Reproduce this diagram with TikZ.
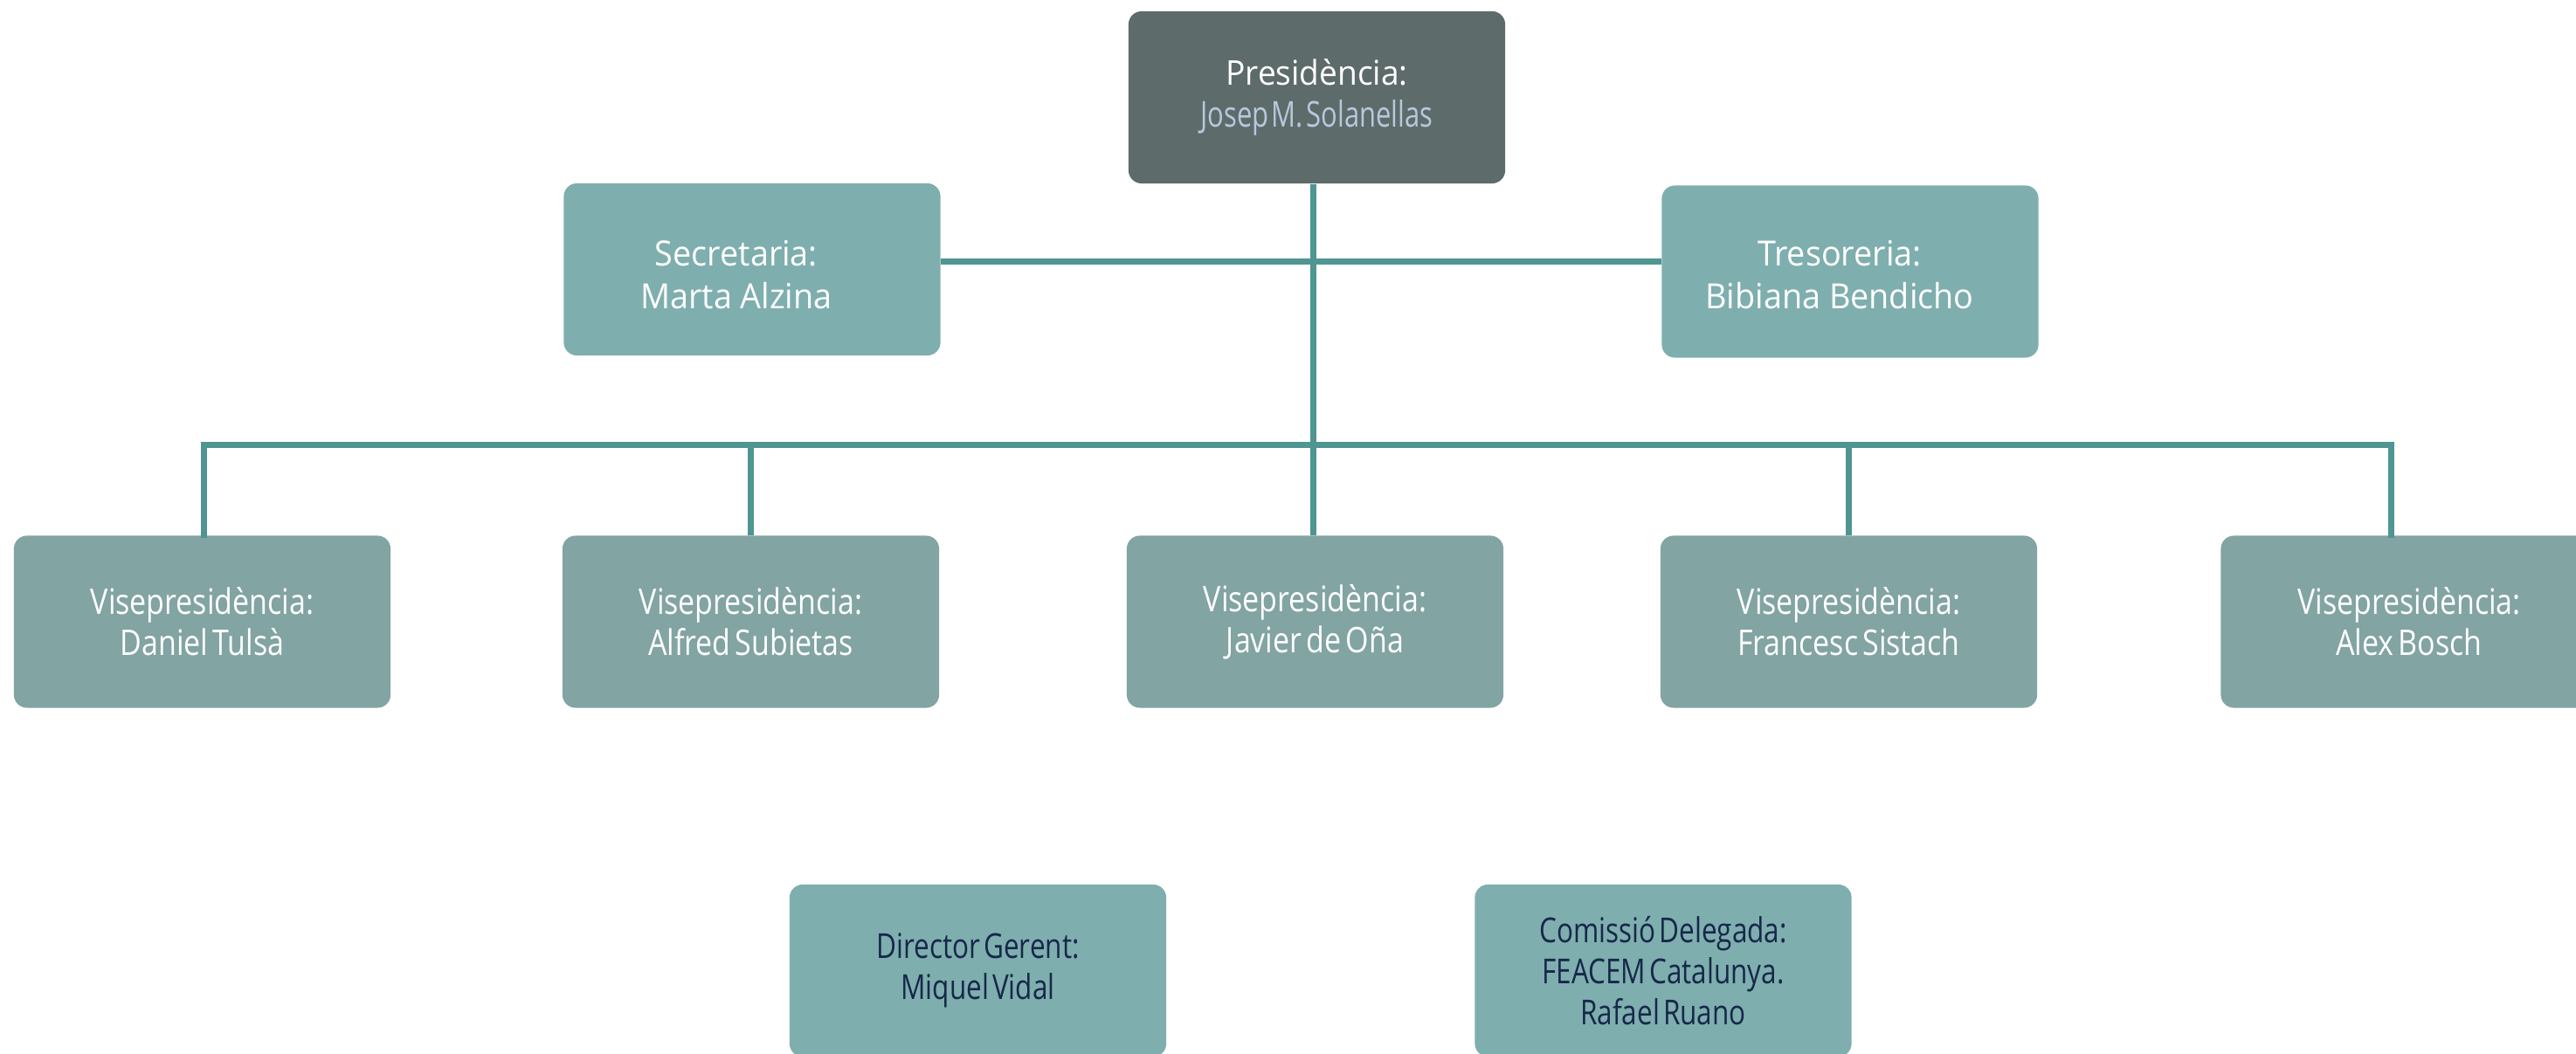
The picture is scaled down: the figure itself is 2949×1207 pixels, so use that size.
\documentclass[tikz,border=0pt]{standalone}
\usepackage{fontspec}
\setmainfont{Open Sans}
\newfontfamily\normfont{Open Sans}[FakeStretch=0.95]
\newfontfamily\namefont{Open Sans}[FakeStretch=0.76, WordSpace=0.4]
\newfontfamily\vpfont{Open Sans}[FakeStretch=0.84, WordSpace=0.6]
\newfontfamily\botfont{Open Sans}[FakeStretch=0.8, WordSpace=0.5]
\usetikzlibrary{calc}
\definecolor{linec}{HTML}{4F9591}
\definecolor{presc}{HTML}{5D6B6A}
\definecolor{lightc}{HTML}{7FAEAE}
\definecolor{vpc}{HTML}{82A4A3}
\definecolor{namec}{HTML}{B7C8DC}
\definecolor{navyc}{HTML}{16284A}
\tikzset{
  box/.style={rounded corners=0.15cm, minimum width=4.31cm, minimum height=1.97cm,
    inner sep=0pt, align=center},
  presbox/.style={box, fill=presc, text=white,
    font=\normfont\fontsize{11.1}{13.4}\selectfont},
  sidebox/.style={box, fill=lightc, text=white,
    font=\normfont\fontsize{11.3}{13.9}\selectfont},
  vpbox/.style={box, fill=vpc, text=white,
    font=\vpfont\fontsize{11.5}{13.4}\selectfont},
  botbox/.style={box, fill=lightc, text=navyc,
    font=\botfont\fontsize{11.2}{13.4}\selectfont},
  conn/.style={draw=linec, line width=0.07cm, line cap=rect, line join=miter}
}
\begin{document}
\begin{tikzpicture}[x=0.01cm, y=-0.01cm]
\useasboundingbox (0,0) rectangle (2949,1207);
\clip (0,0) rectangle (2949,1207);
\fill[white] (0,0) rectangle (2949,1207);

\node[presbox] (pres) at (1507.5,111.5) {Presidència:\\{\namefont\fontsize{11.6}{13.4}\selectfont\textcolor{namec}{Josep M. Solanellas}}};
\node[sidebox] (sec) at (861,308.5) {};
\node[sidebox] (tre) at (2118,311) {};
\node[sidebox, fill=none] (sect) at (843,315) {Secretaria:\\Marta Alzina};
\node[sidebox, fill=none] (tret) at (2106,315) {Tresoreria:\\Bibiana Bendicho};

\node[vpbox] (vp1) at (231.5,712) {Visepresidència:\\Daniel Tulsà};
\node[vpbox] (vp2) at (859.5,712) {Visepresidència:\\Alfred Subietas};
\node[vpbox] (vp3) at (1505.5,712) {Visepresidència:\\Javier de Oña};
\node[vpbox] (vp4) at (2116.5,712) {Visepresidència:\\Francesc Sistach};
\node[vpbox] (vp5) at (2758,712) {Visepresidència:\\Alex Bosch};

\node[botbox] (dir) at (1119.5,1111.5) {Director Gerent:\\Miquel Vidal};
\node[botbox] (com) at (1904,1111.5) {Comissió Delegada:\\FEACEM Catalunya.\\Rafael Ruano};

\coordinate (trunk) at (1503,0);
\coordinate (mid) at (0,300);
\coordinate (bus) at (0,510);
\coordinate (d1) at (233,0);
\coordinate (d5) at (2737,0);

% trunk from presidency to central vice-presidency
\draw[conn, line cap=butt] (trunk |- pres.south) -- (trunk |- vp3.north);
% secretary -- treasurer
\draw[conn, line cap=butt] (mid -| sec.east) -- (mid -| tre.west);
% vice-presidency bus
\draw[conn] (d1 |- vp1.north) -- (d1 |- bus) -- (d5 |- bus) -- (d5 |- vp5.north);
\draw[conn, line cap=butt] (vp2.north |- bus) -- (vp2.north);
\draw[conn, line cap=butt] (vp4.north |- bus) -- (vp4.north);
\end{tikzpicture}
\end{document}
